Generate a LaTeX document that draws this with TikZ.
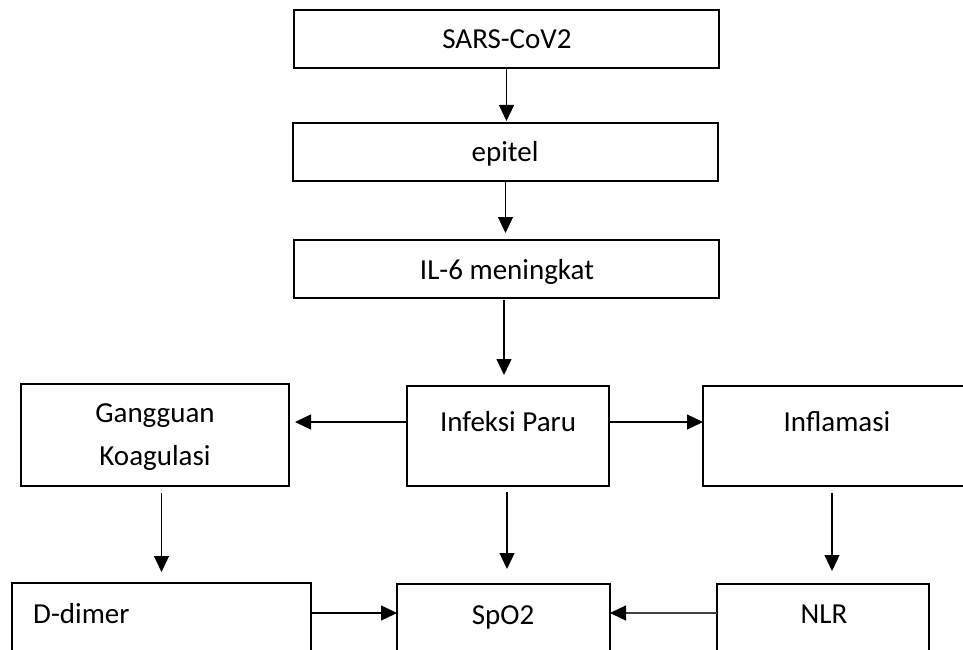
\documentclass[tikz,border=0pt]{standalone}
\usepackage{fontspec}
\setmainfont{Carlito}
\usetikzlibrary{arrows.meta}
\begin{document}
\begin{tikzpicture}[x=1pt,y=-1pt,
 box/.style={draw, line width=2pt, rectangle, inner sep=0pt, outer sep=0pt},
 lbl/.style={font=\fontsize{29}{43}\selectfont, inner sep=0pt, anchor=base},
 arr/.style={line width=1.3pt, -{Triangle[width=15pt,length=16pt,color=black]}}]
\useasboundingbox (0,0) rectangle (963,650);
\clip (0,0) rectangle (963,650);
% boxes
\node[box, minimum width=425pt, minimum height=58pt] (sars) at (506.5,39) {};
\node[box, minimum width=425pt, minimum height=58pt] (epi) at (505.5,152) {};
\node[box, minimum width=425pt, minimum height=58pt] (il6) at (506.5,269) {};
\node[box, minimum width=268pt, minimum height=102pt] (gang) at (155,435) {};
\node[box, minimum width=202pt, minimum height=100pt] (inf) at (508,436) {};
\node[box, minimum width=287pt, minimum height=100pt] (infl) at (846.5,436) {};
\node[box, minimum width=299pt, minimum height=67.5pt] (dd) at (161.5,616.75) {};
\node[box, minimum width=213pt, minimum height=116pt] (spo) at (503.5,642) {};
\node[box, minimum width=212pt, minimum height=116pt] (nlr) at (823,642) {};
% labels
\node[lbl] (sarsT) at (507,49) {SARS-CoV2};
\node[lbl] (epiT) at (505,161) {epitel};
\node[lbl] (il6T) at (507,279) {IL-6 meningkat};
\node[lbl, anchor=center, align=center] (gangT) at (155,437) {Gangguan\\Koagulasi};
\node[lbl] (infT) at (508,431) {Infeksi Paru};
\node[lbl] (inflT) at (837,431) {Inflamasi};
\node[lbl, anchor=base west] (ddT) at (33,623) {D-dimer};
\node[lbl] (spoT) at (503,624) {SpO2};
\node[lbl] (nlrT) at (824,623) {NLR};
% helper
\coordinate (yb) at (0,613);
% arrows
\draw[arr, shorten >=2pt] (sars.south) -- (sars.south |- epi.north);
\draw[arr, shorten >=7pt] (epi.south) -- (epi.south |- il6.north);
\draw[arr, shorten <=2pt, shorten >=11pt] ([xshift=-2.5pt]il6.south) -- ([xshift=-2.5pt]il6.south |- inf.north);
\draw[arr, shorten >=6pt] ([yshift=14pt]inf.west) -- ([yshift=14pt]inf.west -| gang.east);
\draw[arr] ([yshift=14pt]inf.east) -- ([yshift=14pt]inf.east -| infl.west);
\draw[arr, shorten <=7pt, shorten >=11pt] (gang.south -| dd.north) -- (dd.north);
\draw[arr, shorten <=6pt, shorten >=15pt] ([xshift=-1pt]inf.south) -- ([xshift=-1pt]inf.south |- spo.north);
\draw[arr, shorten <=7pt, shorten >=13pt] ([xshift=-14.5pt]infl.south) -- ([xshift=-14.5pt]infl.south |- nlr.north);
\draw[arr] (dd.east |- yb) -- (spo.west |- yb);
\draw[arr, draw=black!75] (nlr.west |- yb) -- (spo.east |- yb);
\end{tikzpicture}
\end{document}
